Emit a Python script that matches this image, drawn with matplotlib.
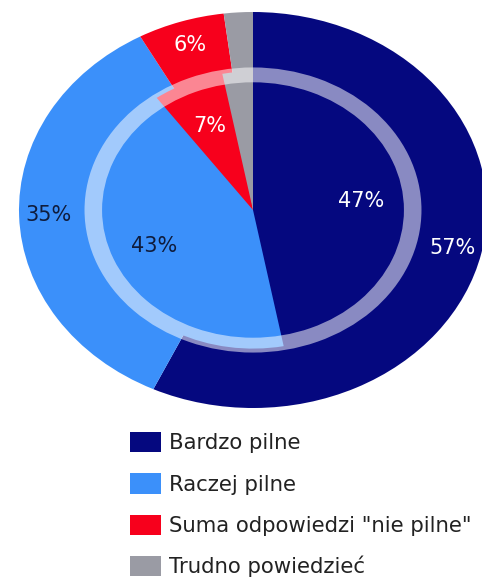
import matplotlib
matplotlib.use("Agg")
import matplotlib.pyplot as plt
from matplotlib.patches import Wedge

plt.rcParams['font.family'] = ['DejaVu Sans']

categories = ["Bardzo pilne", "Raczej pilne", 'Suma odpowiedzi "nie pilne"', "Trudno powiedzieć"]
outer_values = [57, 35, 6, 2]
inner_values = [47, 43, 7, 3]
colors = ["#05087f", "#3b90fa", "#f7001c", "#9a9ba4"]
label_colors = ["white", "#0f1c3c", "white", "white"]

W, H = 482, 583
fig = plt.figure(figsize=(W / 100, H / 100), dpi=100)
cx, cy, rx, ry = 253, 210, 234, 198
ax = fig.add_axes([(cx - rx) / W, (H - cy - ry) / H, 2 * rx / W, 2 * ry / H])


def make_pct(vals):
    it = iter(range(len(vals)))
    def f(p):
        i = next(it)
        return "" if i == len(vals) - 1 else f"{vals[i]}%"
    return f


wo, to, ao = ax.pie(outer_values, colors=colors, startangle=90, counterclock=False,
                    radius=1.0, autopct=make_pct(outer_values), pctdistance=0.875,
                    wedgeprops=dict(linewidth=0), textprops=dict(fontsize=15))
wi, ti, ai = ax.pie(inner_values, colors=colors, startangle=90, counterclock=False,
                    radius=0.70, autopct=make_pct(inner_values), pctdistance=0.66,
                    wedgeprops=dict(linewidth=0), textprops=dict(fontsize=15))
for texts in (ao, ai):
    for t, c in zip(texts, label_colors):
        t.set_color(c)

ax.add_patch(Wedge((0, 0), 0.72, 0, 360, width=0.075, facecolor="white",
                   alpha=0.53, linewidth=0))
ax.set_aspect('auto')
ax.set_xlim(-1, 1)
ax.set_ylim(-1, 1)
ax.axis('off')

leg = fig.legend(wo, categories, loc='upper left',
                 bbox_to_anchor=(130 / W, 1 - 432 / H), frameon=False,
                 fontsize=15.3, handlelength=1.45, handleheight=1.1,
                 handletextpad=0.4, labelspacing=0.935, borderpad=0,
                 borderaxespad=0)
for t in leg.get_texts():
    t.set_color("#222222")

fig.savefig("out.png", dpi=100, facecolor="white")
